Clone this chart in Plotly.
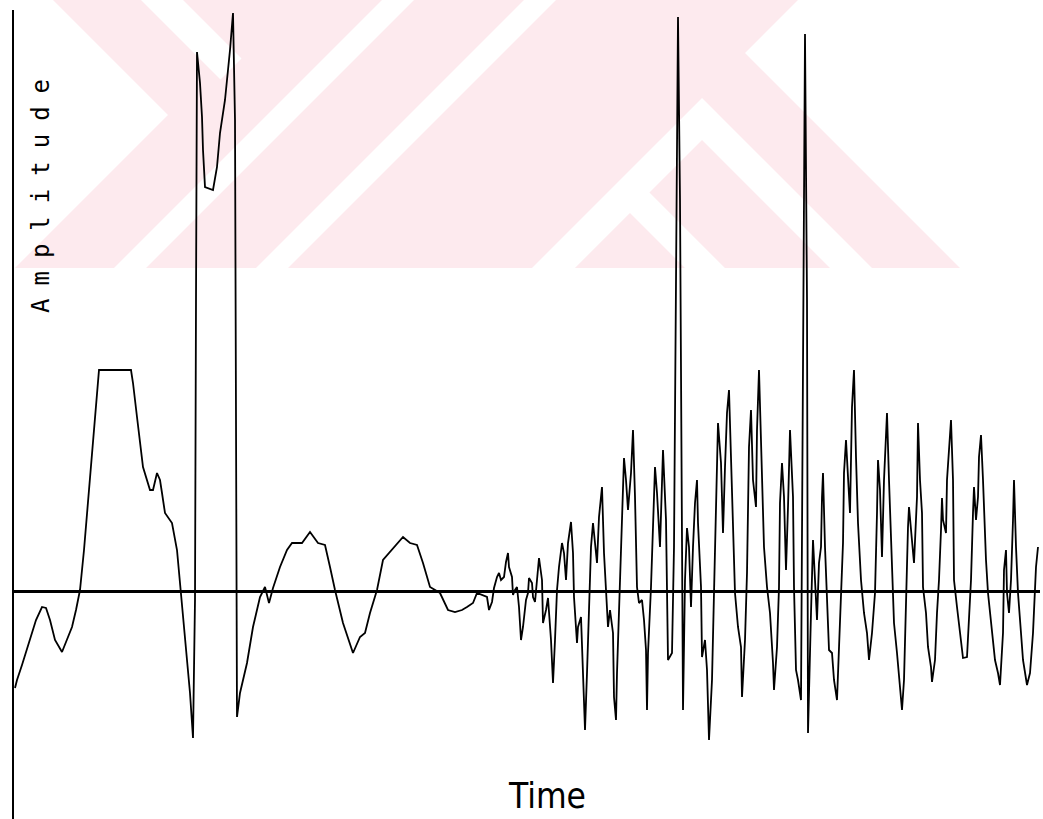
import plotly.graph_objects as go

# Sample times (arbitrary units) and amplitudes
time = [15, 17, 22, 30, 36, 42, 46, 50, 55, 62, 67, 72, 76, 80, 84, 88, 93, 97, 99, 131,
        133, 137, 143, 150, 153, 157, 160, 162, 165, 172, 177, 180, 183, 187, 190, 193, 195, 196, 197, 200,
        202, 203, 205, 213, 217, 220, 225, 230, 233, 235, 236, 237, 240, 247, 253, 260, 265, 269, 273, 280,
        287, 292, 302, 310, 318, 325, 330, 335, 343, 353, 360, 365, 370, 377, 383, 392, 403, 410, 417, 423,
        430, 440, 448, 455, 462, 467, 473, 477, 482,
        487, 489, 492, 494, 497, 499, 501, 504, 506, 508, 509, 512, 513, 515, 517, 519, 521, 523, 526, 528,
        529, 532, 533, 535, 537, 539, 542, 543, 546, 548, 551, 553, 555, 557, 559, 562, 564, 566, 568, 571,
        573, 574, 577, 578, 581, 583, 585, 587, 589, 591, 593, 595, 597, 599, 602, 604, 606, 608, 610, 613,
        614, 616, 617, 619, 622, 624, 626, 628, 631, 633, 635, 637, 639, 642, 644, 646, 647, 648, 651, 653,
        655, 657, 659,
        660, 663, 666, 668, 672, 674, 676, 678, 680, 682, 683, 685, 687, 689, 691, 693, 695, 697, 698, 701,
        702, 705, 707, 709, 712, 714, 717, 718, 721, 723, 725, 727, 729, 731, 733, 735, 738, 741, 742, 745,
        747, 749, 751, 753, 756, 757, 759, 762, 764, 767, 770, 773, 774, 777, 779, 780, 782, 784, 786, 788,
        789,
        790, 793, 794, 796, 798, 801, 803, 805, 807, 808, 811, 812, 813, 815, 817, 819, 821, 822, 823, 825,
        827, 829, 832, 834, 837, 839, 841, 843, 844, 846, 848, 850, 852, 854, 856, 858, 861, 864, 867, 869,
        872, 875, 877, 878, 880, 882, 884, 886, 887, 889, 892, 894, 897, 900, 902, 904, 906, 908, 909, 912,
        914, 917, 918,
        920, 922, 923, 926, 928, 931, 932, 935, 937, 939, 941, 942, 943, 946, 947, 949, 951, 953, 954, 957,
        960, 963, 967, 969, 971, 973, 974, 976, 978, 979, 981, 983, 986, 988, 992, 995, 998, 1000, 1003, 1004,
        1006, 1007, 1009, 1011, 1013, 1014, 1016, 1018, 1021, 1023, 1027, 1030, 1033, 1035, 1036, 1038]

amplitude = [-97, -89, -74, -49, -29, -16, -17, -29, -49, -61, -49, -36, -19, 1, 41, 91, 148, 196, 221, 221,
             208, 174, 124, 101, 101, 118, 111, 98, 78, 68, 41, 8, -26, -76, -102, -147, -9, 291, 539, 508,
             474, 441, 404, 401, 424, 458, 491, 541, 578, 471, 1, -126, -102, -72, -36, -6, 4, -12, 3, 24,
             41, 48, 48, 59, 48, 46, 24, 1, -32, -62, -46, -42, -22, 1, 31, 41, 54, 48, 46, 28,
             4, -2, -19, -21, -19, -16, -12, -2, -4,
             -6, -19, -11, 3, 14, 18, 11, 14, 29, 38, 24, 14, -4, 1, 4, -16, -49, -36, -9, -2,
             13, 8, -6, -11, 11, 33, 11, -32, -19, -7, -49, -92, -49, 1, 24, 48, 38, 11, 48, 69,
             38, -6, -52, -36, -26, -82, -139, -82, -22, 44, 68, 44, 28, 74, 104, 38, -2, -36, -19, -42,
             -106, -129, -82, -22, 68, 133, 111, 81, 118, 161, 94, 4, -12, -9, -29, -59, -119, -62, 4, 68,
             124, 98, 68,
             44, 141, 71, -69, -62, 44, 291, 574, 391, 91, -119, 11, 63, 44, -16, 44, 88, 111, 68, 4,
             -66, -49, -79, -149, -89, -2, 134, 168, 128, 58, 124, 178, 201, 131, 44, -2, -36, -56, -106, -49,
             18, 144, 181, 111, 84, 161, 221, 128, 44, 4, -22, -72, -99, -56, 4, 88, 128, 94, 21, 84,
             138,
             161, 94, 4, -79, -89, -109, 291, 557, 291, -142, -22, 24, 51, 11, -29, 28, 44, 94, 118, 44,
             -2, -59, -62, -89, -109, -62, -2, 48, 118, 151, 114, 78, 184, 221, 134, 68, 11, -22, -42, -69,
             -42, -2, 78, 131, 101, 34, 111, 151, 178, 111, 11, -32, -62, -92, -119, -89, -2, 64, 84, 54,
             28, 94, 168,
             111, 78, 4, -22, -56, -76, -91, -69, -22, 11, 61, 93, 71, 58, 111, 144, 171, 111, 11, -16,
             -42, -67, -66, -29, 11, 78, 104, 71, 94, 134, 156, 111, 31, -2, -42, -69, -82, -94, -42, 21,
             41, -2, -22, 11, 71, 111, 44, -2, -42, -69, -94, -82, -42, 4, 24, 44]

W, H = 1043, 819
ML, MR, MT, MB = 14, 3, 10, 0
PW, PH = W - ML - MR, H - MT - MB


def paper(pts):
    s = ""
    for i, (px, py) in enumerate(pts):
        s += ("M" if i == 0 else "L") + f"{(px - ML) / PW:.5f},{1 - (py - MT) / PH:.5f} "
    return s + "Z"


# faint watermark behind the chart
pink = "#fdeaee"
hull = [(53, 0), (168, 115), (15, 268), (960, 268), (745, 53), (798, 0)]
whites = [
    [(141, 0), (183, 0), (241.5, 58.5), (220.5, 79.5)],
    [(382, 0), (414, 0), (146, 268), (114, 268)],
    [(524, 0), (556, 0), (288, 268), (256, 268)],
    [(532, 268), (702, 98), (872, 268), (830, 268), (702, 140), (574, 268)],
    [(535, 268), (630, 173), (725, 268), (685, 268), (630, 213), (575, 268)],
]
shapes = [dict(type="path", path=paper(hull), xref="paper", yref="paper",
               fillcolor=pink, line=dict(width=0), layer="below")]
for w in whites:
    shapes.append(dict(type="path", path=paper(w), xref="paper", yref="paper",
                       fillcolor="white", line=dict(width=0), layer="below"))

fig = go.Figure(go.Scatter(x=time, y=amplitude, mode="lines",
                           line=dict(color="black", width=1.8), hoverinfo="skip"))

fig.update_layout(
    width=W, height=H,
    margin=dict(l=ML, r=MR, t=MT, b=MB, pad=0),
    paper_bgcolor="white", plot_bgcolor="rgba(0,0,0,0)",
    showlegend=False,
    shapes=shapes,
    xaxis=dict(range=[14, 1040], showgrid=False, zeroline=False, showticklabels=False,
               ticks="", showline=False, fixedrange=True),
    yaxis=dict(range=[-228, 581], showgrid=False, zeroline=True, zerolinecolor="black",
               zerolinewidth=2.5, showticklabels=False, ticks="", showline=True,
               linecolor="black", linewidth=1.5, fixedrange=True),
    annotations=[
        dict(text='<span style="letter-spacing:13px">Amplitude</span>',
             xref="paper", yref="paper",
             x=(41 - ML) / PW, y=1 - (190 - MT) / PH,
             xanchor="center", yanchor="middle", textangle=-90, showarrow=False,
             font=dict(family="DejaVu Sans Mono", size=24, color="black")),
        dict(text="Time", xref="paper", yref="paper",
             x=(547 - ML) / PW, y=1 - (796 - MT) / PH,
             xanchor="center", yanchor="middle", showarrow=False,
             font=dict(family="DejaVu Sans Condensed, DejaVu Sans", size=35, color="black")),
    ],
)

fig.write_html("out.html", config={"displayModeBar": False})
